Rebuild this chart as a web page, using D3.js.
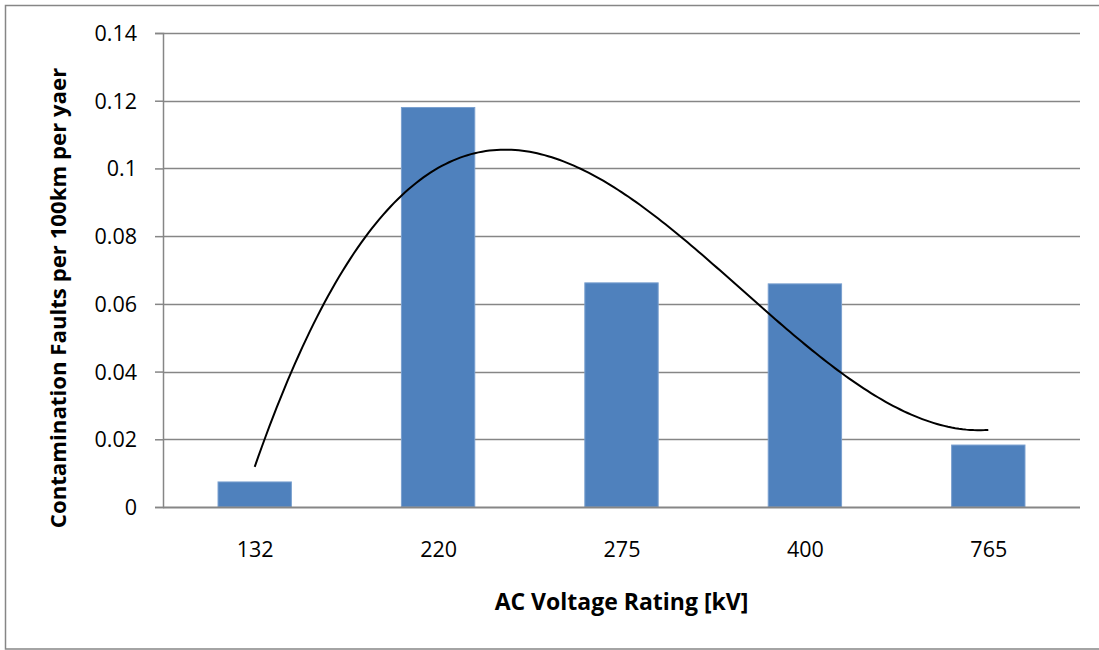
<!DOCTYPE html>
<html>
<head>
<meta charset="utf-8">
<script src="https://cdn.jsdelivr.net/npm/d3@7"></script>
<style>
  body { margin: 0; background: #fff; overflow: hidden; }
  svg { display: block; }
  svg text { font-family: "Open Sans", "Noto Sans", sans-serif; fill: #000; }
</style>
</head>
<body>
<svg></svg>
<script>
const width = 1099
const height = 650

// data
const categories = ['132', '220', '275', '400', '765']
const faults = [0.0074, 0.118, 0.0662, 0.0659, 0.0183]
const yTicks = [0, 0.02, 0.04, 0.06, 0.08, 0.1, 0.12, 0.14]
const xTitle = 'AC Voltage Rating [kV]'
const yTitle = 'Contamination Faults per 100km per yaer'

const margin = {top: 33, right: 19, bottom: 143, left: 163}
const plotW = width - margin.left - margin.right
const plotH = height - margin.top - margin.bottom

const svg = d3.select('svg').attr('width', width).attr('height', height)

// outer chart frame (right edge falls outside the picture)
svg.append('rect')
    .attr('x', 5.5).attr('y', 5.5)
    .attr('width', width + 20).attr('height', height - 6.5)
    .attr('fill', 'none')
    .attr('stroke', '#868686')
    .attr('stroke-width', 1.5)

const g = svg.append('g').attr('transform', `translate(${margin.left},${margin.top})`)

const x = d3.scaleBand().domain(categories).range([0, plotW]).paddingInner(0.6).paddingOuter(0.3)
const xc = d3.scalePoint().domain(categories).range([0, plotW]).padding(0.5)
const y = d3.scaleLinear().domain([0, 0.14]).range([plotH, 0])

// gridlines
g.append('g')
    .selectAll('line')
    .data(yTicks.slice(1))
    .enter().append('line')
    .attr('x1', 0).attr('x2', plotW)
    .attr('y1', d => Math.round(y(d)) + 0.5)
    .attr('y2', d => Math.round(y(d)) + 0.5)
    .style('stroke', '#868686')
    .style('stroke-width', '1.5px')

// y axis
const yAxis = g.append('g')
    .call(d3.axisLeft(y).tickValues(yTicks).tickSize(8).tickPadding(18)
        .tickFormat(d => d === 0 ? '0' : String(+d.toFixed(2))))
yAxis.select('.domain').style('stroke', '#868686').style('stroke-width', '1.5px')
yAxis.selectAll('.tick line').style('stroke', '#868686').style('stroke-width', '1.5px')
yAxis.selectAll('text').style('font-size', '21.5px').attr('dy', '0.35em')

// bars
g.append('g')
    .selectAll('rect')
    .data(faults)
    .enter().append('rect')
    .attr('x', (d, i) => x(categories[i]))
    .attr('y', d => y(d))
    .attr('width', x.bandwidth())
    .attr('height', d => plotH - y(d))
    .style('fill', '#4f81bd')
    .style('stroke', '#7aa0cf')
    .style('stroke-width', '1px')

// x axis
const xAxis = g.append('g')
    .attr('transform', `translate(0,${plotH})`)
    .call(d3.axisBottom(xc).tickSize(0))
xAxis.select('.domain').attr('d', `M0,0.5H${plotW}`).style('stroke', '#868686').style('stroke-width', '2px')
xAxis.selectAll('text').style('font-size', '21.5px').attr('y', 50).attr('dy', 0)

// polynomial (order 3) trendline, least squares on the bar values
function polyFit(xs, ys, order) {
    const n = order + 1
    const A = Array.from({length: n}, () => new Array(n + 1).fill(0))
    xs.forEach((xv, k) => {
        for (let r = 0; r < n; r++) {
            for (let c = 0; c < n; c++) A[r][c] += Math.pow(xv, r + c)
            A[r][n] += ys[k] * Math.pow(xv, r)
        }
    })
    for (let p = 0; p < n; p++) {
        for (let r = p + 1; r < n; r++) {
            const f = A[r][p] / A[p][p]
            for (let c = p; c <= n; c++) A[r][c] -= f * A[p][c]
        }
    }
    const coef = new Array(n).fill(0)
    for (let r = n - 1; r >= 0; r--) {
        let s = A[r][n]
        for (let c = r + 1; c < n; c++) s -= A[r][c] * coef[c]
        coef[r] = s / A[r][r]
    }
    return t => coef.reduce((acc, c, i) => acc + c * Math.pow(t, i), 0)
}

const idx = categories.map((d, i) => i + 1)
const trend = polyFit(idx, faults, 3)
const step = xc.step()
const trendPts = d3.range(1, 5.001, 0.02).map(t => [xc(categories[0]) + (t - 1) * step, y(trend(t))])

g.append('path')
    .datum(trendPts)
    .attr('d', d3.line())
    .attr('fill', 'none')
    .style('stroke', '#000')
    .style('stroke-width', '2px')

// axis titles
svg.append('text')
    .attr('x', margin.left + plotW / 2)
    .attr('y', 610)
    .attr('text-anchor', 'middle')
    .style('font-size', '23px')
    .style('font-weight', 'bold')
    .text(xTitle)

svg.append('text')
    .attr('transform', 'translate(66,298) rotate(-90)')
    .attr('text-anchor', 'middle')
    .style('font-size', '22.2px')
    .style('font-weight', 'bold')
    .text(yTitle)
</script>
</body>
</html>
